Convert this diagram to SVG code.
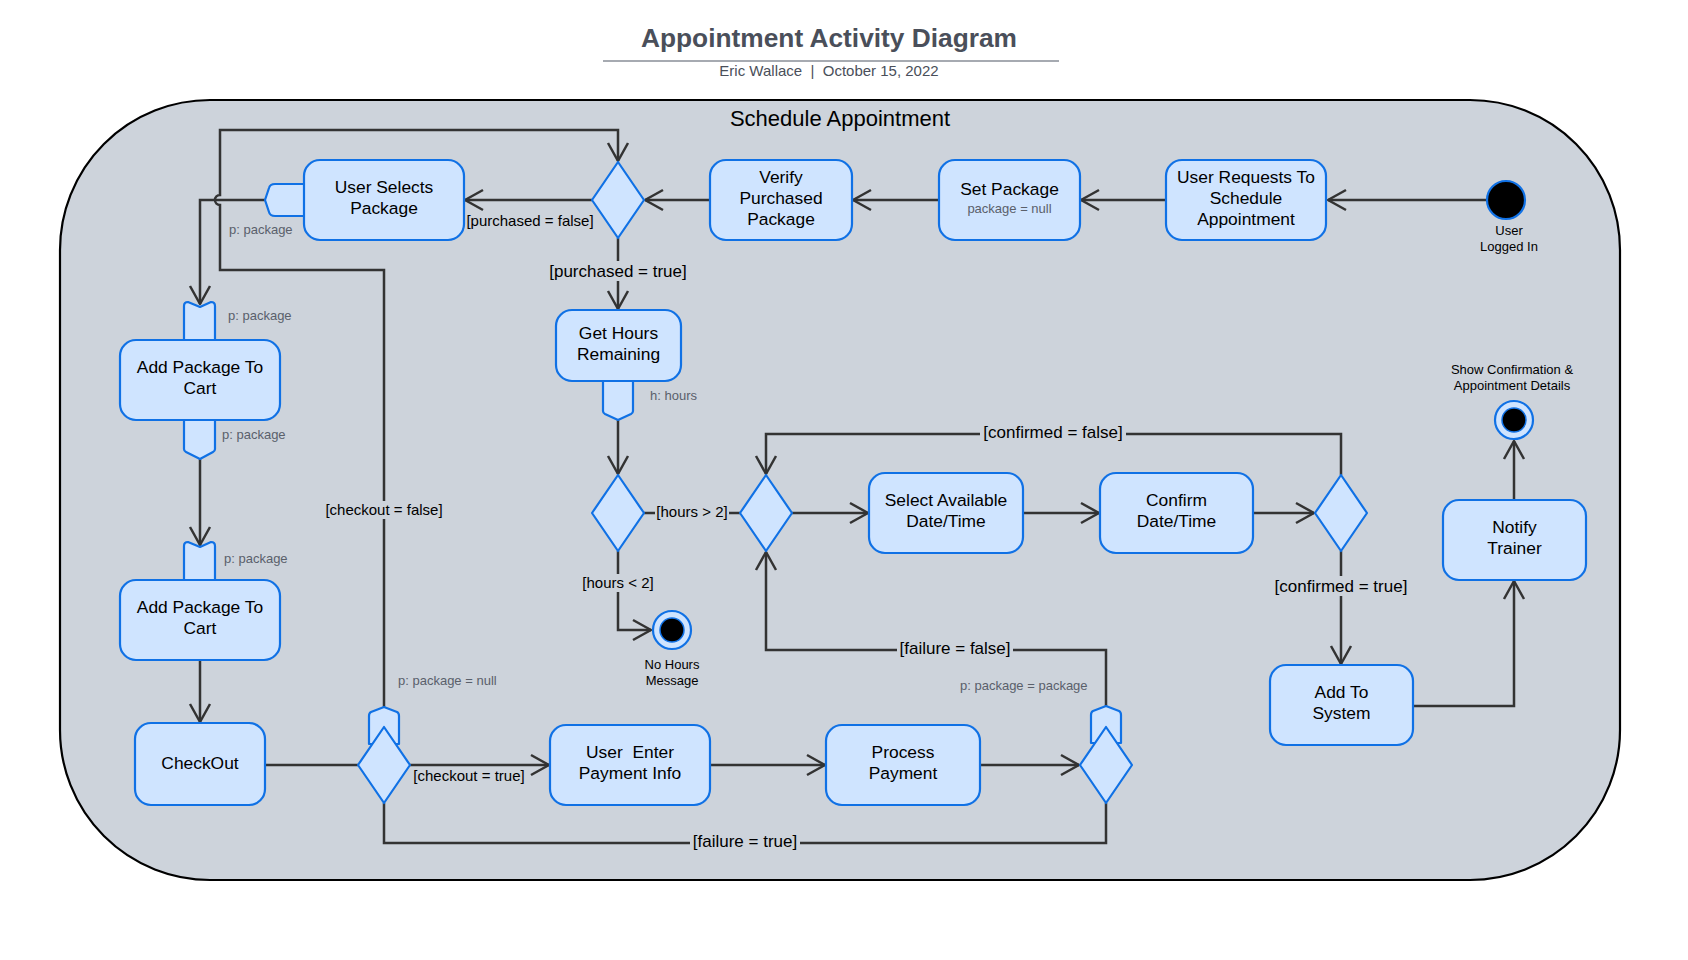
<svg xmlns="http://www.w3.org/2000/svg" width="1688" height="960" viewBox="0 0 1688 960">
<defs>
<style>
.node{fill:#cfe4ff;stroke:#1071e5;stroke-width:2.2;stroke-linejoin:round}
.conn{fill:none;stroke:#333;stroke-width:2.5}
.t{font-family:"Liberation Sans",Arial,sans-serif;font-size:17.4px;fill:#000;text-anchor:middle}
.gs{font-family:"Liberation Sans",Arial,sans-serif;font-size:15px;fill:#000;text-anchor:middle}
.gl{font-family:"Liberation Sans",Arial,sans-serif;font-size:17px;fill:#000;text-anchor:middle}
.sm{font-family:"Liberation Sans",Arial,sans-serif;font-size:13px;fill:#5a606b}
.lb{font-family:"Liberation Sans",Arial,sans-serif;font-size:13px;fill:#000;text-anchor:middle}
.bg{fill:#cdd3db}
</style>
<marker id="arr" viewBox="-20 -12 24 24" refX="0" refY="0" markerWidth="24" markerHeight="24" markerUnits="userSpaceOnUse" orient="auto">
<path d="M-18,-10 L0,0 L-18,10" fill="none" stroke="#333" stroke-width="2.5" stroke-linejoin="round"/>
</marker>
</defs>
<rect width="1688" height="960" fill="#fff"/>
<g id="title">
<text x="829" y="47" style="font-family:'Liberation Sans',Arial,sans-serif;font-size:26.3px;font-weight:bold;fill:#4a4f5a;text-anchor:middle">Appointment Activity Diagram</text>
<line x1="603" y1="61" x2="1059" y2="61" stroke="#a6aab1" stroke-width="2"/>
<text x="829" y="76" xml:space="preserve" style="font-family:'Liberation Sans',Arial,sans-serif;font-size:15px;fill:#4a4f5a;text-anchor:middle">Eric Wallace  |  October 15, 2022</text>
</g>
<g id="container">
<rect x="60" y="100" width="1560" height="780" rx="150" ry="150" fill="#cdd3db" stroke="#000" stroke-width="2.2"/>
<text x="840" y="126" style="font-family:'Liberation Sans',Arial,sans-serif;font-size:22px;fill:#000;text-anchor:middle">Schedule Appointment</text>
</g>
<g id="connectors">
<path class="conn" d="M1486,200 H1328" marker-end="url(#arr)"/>
<path class="conn" d="M1166,200 H1081" marker-end="url(#arr)"/>
<path class="conn" d="M939,200 H853" marker-end="url(#arr)"/>
<path class="conn" d="M710,200 H645" marker-end="url(#arr)"/>
<path class="conn" d="M592,200 H465" marker-end="url(#arr)"/>
<path class="conn" d="M618,238 V309" marker-end="url(#arr)"/>
<path class="conn" d="M265,200 H200 V304" marker-end="url(#arr)"/>
<path class="conn" d="M384,707 V270 H220 V205 A5,5 0 0 1 220,195 V130 H618 V161" marker-end="url(#arr)"/>
<path class="conn" d="M200,459 V545" marker-end="url(#arr)"/>
<path class="conn" d="M200,660 V722" marker-end="url(#arr)"/>
<path class="conn" d="M265,765 H358"/>
<path class="conn" d="M410,765 H549" marker-end="url(#arr)"/>
<path class="conn" d="M710,765 H825" marker-end="url(#arr)"/>
<path class="conn" d="M980,765 H1079" marker-end="url(#arr)"/>
<path class="conn" d="M384,803 V843 H1106 V803"/>
<path class="conn" d="M1106,706 V650 H766 V552" marker-end="url(#arr)"/>
<path class="conn" d="M618,420 V474" marker-end="url(#arr)"/>
<path class="conn" d="M644,513 H740"/>
<path class="conn" d="M618,551 V630 H651" marker-end="url(#arr)"/>
<path class="conn" d="M792,513 H868" marker-end="url(#arr)"/>
<path class="conn" d="M1023,513 H1099" marker-end="url(#arr)"/>
<path class="conn" d="M1253,513 H1314" marker-end="url(#arr)"/>
<path class="conn" d="M1341,475 V434 H766 V474" marker-end="url(#arr)"/>
<path class="conn" d="M1341,551 V664" marker-end="url(#arr)"/>
<path class="conn" d="M1413,706 H1514 V581" marker-end="url(#arr)"/>
<path class="conn" d="M1514,500 V441" marker-end="url(#arr)"/>
<text class="gs" x="530" y="226">[purchased = false]</text>
<rect class="bg" x="546" y="261" width="144" height="20"/>
<text class="gl" x="618" y="276.5">[purchased = true]</text>
<rect class="bg" x="323" y="501" width="122" height="18"/>
<text class="gs" x="384" y="515">[checkout = false]</text>
<text class="gs" x="469" y="781">[checkout = true]</text>
<rect class="bg" x="655" y="504" width="74" height="18"/>
<text class="gs" x="692" y="516.5">[hours &gt; 2]</text>
<rect class="bg" x="580" y="574" width="76" height="18"/>
<text class="gs" x="618" y="588">[hours &lt; 2]</text>
<rect class="bg" x="980" y="424" width="146" height="20"/>
<text class="gl" x="1053" y="438">[confirmed = false]</text>
<rect class="bg" x="1272" y="576" width="139" height="20"/>
<text class="gl" x="1341" y="592">[confirmed = true]</text>
<rect class="bg" x="897" y="640" width="116" height="20"/>
<text class="gl" x="955" y="654">[failure = false]</text>
<rect class="bg" x="690" y="833" width="110" height="20"/>
<text class="gl" x="745" y="847">[failure = true]</text>
</g>
<g id="start">
<circle cx="1506" cy="200" r="19" fill="#000" stroke="#1071e5" stroke-width="2.2"/>
<text class="lb" x="1509" y="235">User</text>
<text class="lb" x="1509" y="251">Logged In</text>
</g>
<g id="user-requests">
<rect class="node" x="1166" y="160" width="160" height="80" rx="16"/>
<text class="t" x="1246" y="183">User Requests To</text>
<text class="t" x="1246" y="204">Schedule</text>
<text class="t" x="1246" y="225">Appointment</text>
</g>
<g id="set-package">
<rect class="node" x="939" y="160" width="141" height="80" rx="16"/>
<text class="t" x="1009.5" y="195">Set Package</text>
<text x="1009.5" y="213" style="font-family:'Liberation Sans',Arial,sans-serif;font-size:13px;fill:#5a606b;text-anchor:middle">package = null</text>
</g>
<g id="verify">
<rect class="node" x="710" y="160" width="142" height="80" rx="16"/>
<text class="t" x="781" y="182.5">Verify</text>
<text class="t" x="781" y="204">Purchased</text>
<text class="t" x="781" y="225">Package</text>
</g>
<g id="decision-purchased">
<path class="node" d="M618,162 L644,200 L618,238 L592,200 Z"/>
</g>
<g id="user-selects">
<path class="node" d="M310,184 H275 Q270,184 269,188 L265,200 L269,212 Q270,216 275,216 H310 Z"/>
<rect class="node" x="304" y="160" width="160" height="80" rx="16"/>
<text class="t" x="384" y="193">User Selects</text>
<text class="t" x="384" y="214">Package</text>
<text class="sm" x="229" y="234">p: package</text>
</g>
<g id="add-package-1">
<path class="node" d="M184,340 V306 Q184,302 188,302 L200,307 L211,302 Q215,302 215,306 V340 Z"/>
<path class="node" d="M184,420 V449 Q184,451 186,452 L200,459 L213,452 Q215,451 215,449 V420 Z"/>
<rect class="node" x="120" y="340" width="160" height="80" rx="16"/>
<text class="t" x="200" y="373">Add Package To</text>
<text class="t" x="200" y="394">Cart</text>
<text class="sm" x="228" y="320">p: package</text>
<text class="sm" x="222" y="439">p: package</text>
</g>
<g id="add-package-2">
<path class="node" d="M184,580 V546 Q184,542 188,542 L200,547 L211,542 Q215,542 215,546 V580 Z"/>
<rect class="node" x="120" y="580" width="160" height="80" rx="16"/>
<text class="t" x="200" y="613">Add Package To</text>
<text class="t" x="200" y="634">Cart</text>
<text class="sm" x="224" y="563">p: package</text>
</g>
<g id="checkout">
<rect class="node" x="135" y="723" width="130" height="82" rx="16"/>
<text class="t" x="200" y="769">CheckOut</text>
</g>
<g id="decision-checkout">
<path class="node" d="M369,744 V716 Q369,713 371,712 L384,707 L397,712 Q399,713 399,716 V744 Z"/>
<path class="node" d="M384,727 L410,765 L384,803 L358,765 Z"/>
<text class="sm" x="398" y="685">p: package = null</text>
</g>
<g id="user-enter">
<rect class="node" x="550" y="725" width="160" height="80" rx="16"/>
<text class="t" x="630" y="758" xml:space="preserve">User  Enter</text>
<text class="t" x="630" y="779">Payment Info</text>
</g>
<g id="process-payment">
<rect class="node" x="826" y="725" width="154" height="80" rx="16"/>
<text class="t" x="903" y="758">Process</text>
<text class="t" x="903" y="779">Payment</text>
</g>
<g id="decision-failure">
<path class="node" d="M1091,743 V715 Q1091,712 1093,711 L1106,706 L1119,711 Q1121,712 1121,715 V743 Z"/>
<path class="node" d="M1106,727 L1132,765 L1106,803 L1080,765 Z"/>
<text class="sm" x="960" y="690">p: package = package</text>
</g>
<g id="get-hours">
<path class="node" d="M603,381 V411 Q603,413 605,414 L618,420 L631,414 Q633,413 633,411 V381 Z"/>
<rect class="node" x="556" y="310" width="125" height="71" rx="16"/>
<text class="t" x="618.5" y="339">Get Hours</text>
<text class="t" x="618.5" y="360">Remaining</text>
<text class="sm" x="650" y="400">h: hours</text>
</g>
<g id="decision-hours">
<path class="node" d="M618,475 L644,513 L618,551 L592,513 Z"/>
</g>
<g id="no-hours-end">
<circle cx="672" cy="630" r="19" fill="#cfe4ff" stroke="#1071e5" stroke-width="2.2"/>
<circle cx="672" cy="630" r="12" fill="#000" stroke="#1071e5" stroke-width="1.5"/>
<text class="lb" x="672" y="669">No Hours</text>
<text class="lb" x="672" y="685">Message</text>
</g>
<g id="merge-date">
<path class="node" d="M766,475 L792,513 L766,551 L740,513 Z"/>
</g>
<g id="select-date">
<rect class="node" x="869" y="473" width="154" height="80" rx="16"/>
<text class="t" x="946" y="506">Select Available</text>
<text class="t" x="946" y="527">Date/Time</text>
</g>
<g id="confirm-date">
<rect class="node" x="1100" y="473" width="153" height="80" rx="16"/>
<text class="t" x="1176.5" y="506">Confirm</text>
<text class="t" x="1176.5" y="527">Date/Time</text>
</g>
<g id="decision-confirmed">
<path class="node" d="M1341,475 L1367,513 L1341,551 L1315,513 Z"/>
</g>
<g id="add-to-system">
<rect class="node" x="1270" y="665" width="143" height="80" rx="16"/>
<text class="t" x="1341.5" y="698">Add To</text>
<text class="t" x="1341.5" y="719">System</text>
</g>
<g id="notify-trainer">
<rect class="node" x="1443" y="500" width="143" height="80" rx="16"/>
<text class="t" x="1514.5" y="533">Notify</text>
<text class="t" x="1514.5" y="554">Trainer</text>
</g>
<g id="final-end">
<circle cx="1514" cy="420" r="19" fill="#cfe4ff" stroke="#1071e5" stroke-width="2.2"/>
<circle cx="1514" cy="420" r="12" fill="#000" stroke="#1071e5" stroke-width="1.5"/>
<text class="lb" x="1512" y="374">Show Confirmation &amp;</text>
<text class="lb" x="1512" y="390">Appointment Details</text>
</g>
</svg>
